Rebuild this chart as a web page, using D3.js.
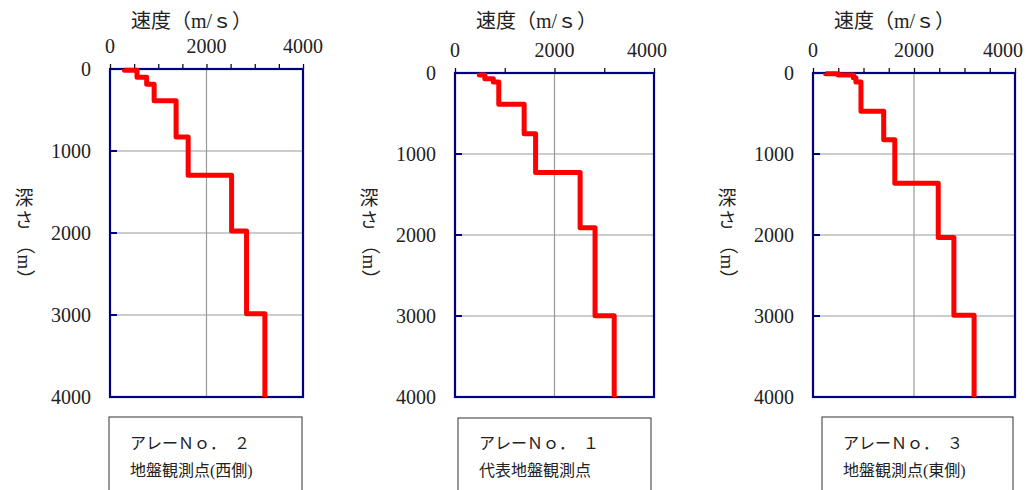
<!DOCTYPE html>
<html>
<head>
<meta charset="utf-8">
<script src="https://cdn.jsdelivr.net/npm/d3@7"></script>
<style>
    body { margin: 0; background: #ffffff; }
    svg { display: block; }
    .num { font-family: "Liberation Serif", "Noto Sans CJK JP", serif; fill: #222; }
    .jp { font-family: "Liberation Serif", "Noto Sans CJK JP", sans-serif; fill: #222; }
</style>
</head>
<body>
<svg id="chart" width="1031" height="490"></svg>
<script>
// axis values
const velocityTicks = [0, 2000, 4000];
const depthTicks = [0, 1000, 2000, 3000, 4000];
const depthGrid = [1000, 2000, 3000];
const velocityGrid = [2000];

// velocity of each layer (m/s) and depth of the layer bottom (m)
// array No.2 (west side)
const no2Velocity = [300, 560, 760, 915, 1370, 1620, 2520, 2830, 3210];
const no2Bottom = [15, 100, 185, 388, 830, 1295, 1975, 2985, 4000];

// array No.1 (main site)
const no1Velocity = [490, 600, 770, 880, 1390, 1620, 2515, 2815, 3200];
const no1Bottom = [25, 70, 110, 385, 750, 1228, 1912, 2996, 4000];

// array No.3 (east side)
const no3Velocity = [250, 500, 800, 850, 950, 1400, 1620, 2480, 2790, 3190];
const no3Bottom = [10, 25, 60, 110, 472, 825, 1360, 2030, 2990, 4000];

// box labels
const labelLine1 = ["アレーＮｏ．　２", "アレーＮｏ．　１", "アレーＮｏ．　３"];
const labelLine2 = ["地盤観測点(西側)", "代表地盤観測点", "地盤観測点(東側)"];

// top tick spacing differs per panel
const minorStep = [500, 1000, 500];

/** one velocity profile panel */
class ProfilePanel {
    constructor(svg, layout, velocity, bottom, step, line1, line2) {
        this.svg = svg;
        this.layout = layout;
        this.velocity = velocity;
        this.bottom = bottom;
        this.step = step;
        this.line1 = line1;
        this.line2 = line2;

        // scales, velocity across and depth down
        this.x = d3.scaleLinear().domain([0, 4000]).range([layout.left, layout.right]);
        this.y = d3.scaleLinear().domain([0, 4000]).range([layout.top, layout.bottom]);

        this.drawGrid();
        this.drawAxes();
        this.drawProfile();
        this.drawBox();
    }

    drawGrid() {
        const g = this.svg.append("g");
        g.selectAll("line.h")
            .data(depthGrid)
            .join("line")
            .attr("x1", this.x(0))
            .attr("x2", this.x(4000))
            .attr("y1", d => this.y(d))
            .attr("y2", d => this.y(d))
            .attr("stroke", "#999")
            .attr("stroke-width", 1.2);
        g.selectAll("line.v")
            .data(velocityGrid)
            .join("line")
            .attr("x1", d => this.x(d))
            .attr("x2", d => this.x(d))
            .attr("y1", this.y(0))
            .attr("y2", this.y(4000))
            .attr("stroke", "#999")
            .attr("stroke-width", 1.2);
    }

    drawAxes() {
        const L = this.layout;

        // top axis: small black ticks pointing up, labels at 0/2000/4000
        const topTicks = d3.range(0, 4001, this.step);
        this.svg.append("g")
            .attr("transform", `translate(0, ${L.top})`)
            .call(d3.axisTop(this.x).tickValues(topTicks).tickSize(5).tickFormat(""))
            .call(g => g.select(".domain").remove())
            .call(g => g.selectAll("line").attr("stroke", "#111").attr("stroke-width", 1.3));

        // last label gets pulled in on the right hand panel so it stays on the page
        this.svg.append("g").selectAll("text")
            .data(velocityTicks)
            .join("text")
            .attr("class", "num")
            .attr("x", d => Math.min(this.x(d), L.labelMaxX))
            .attr("y", L.top - 23)
            .attr("text-anchor", "middle")
            .attr("dominant-baseline", "central")
            .attr("font-size", "20px")
            .text(d => d);

        // left axis labels
        this.svg.append("g").selectAll("text")
            .data(depthTicks)
            .join("text")
            .attr("class", "num")
            .attr("x", L.left - 19)
            .attr("y", d => this.y(d))
            .attr("text-anchor", "end")
            .attr("dominant-baseline", "central")
            .attr("font-size", "20px")
            .text(d => d);

        // inward navy ticks on the left side
        this.svg.append("g").selectAll("line")
            .data(depthGrid)
            .join("line")
            .attr("x1", L.left)
            .attr("x2", L.left + 7)
            .attr("y1", d => this.y(d))
            .attr("y2", d => this.y(d))
            .attr("stroke", "#000080")
            .attr("stroke-width", 2);

        // plot frame
        this.svg.append("rect")
            .attr("x", this.x(0))
            .attr("y", this.y(0))
            .attr("width", this.x(4000) - this.x(0))
            .attr("height", this.y(4000) - this.y(0))
            .attr("fill", "none")
            .attr("stroke", "#000080")
            .attr("stroke-width", 2.2);

        // axis titles
        this.svg.append("text")
            .attr("class", "jp")
            .attr("x", L.left + 21)
            .attr("y", 21)
            .attr("dominant-baseline", "central")
            .attr("font-size", "20px")
            .text("速度（m/ｓ）");

        // vertical depth title, char by char
        const cx = L.left - 86;
        const yt = this.svg.append("g");
        yt.append("text").attr("class", "jp").attr("x", cx).attr("y", 198)
            .attr("text-anchor", "middle").attr("dominant-baseline", "central")
            .attr("font-size", "19px").text("深");
        yt.append("text").attr("class", "jp").attr("x", cx).attr("y", 220)
            .attr("text-anchor", "middle").attr("dominant-baseline", "central")
            .attr("font-size", "19px").text("さ");
        yt.append("text").attr("class", "jp")
            .attr("transform", `translate(${cx}, 262) rotate(90)`)
            .attr("text-anchor", "middle").attr("dominant-baseline", "central")
            .attr("font-size", "19px").text("（m）");
    }

    drawProfile() {
        // build the step points from layers
        const pts = [];
        let top = 0;
        this.velocity.forEach((v, i) => {
            pts.push([v, top]);
            pts.push([v, this.bottom[i]]);
            top = this.bottom[i];
        });

        const line = d3.line()
            .x(d => this.x(d[0]))
            .y(d => this.y(d[1]));

        this.svg.append("path")
            .attr("d", line(pts))
            .attr("fill", "none")
            .attr("stroke", "#ff0000")
            .attr("stroke-width", 5)
            .attr("stroke-linejoin", "round");
    }

    drawBox() {
        const B = this.layout.box;
        this.svg.append("rect")
            .attr("x", B.left)
            .attr("y", B.top)
            .attr("width", B.right - B.left)
            .attr("height", 100)
            .attr("fill", "none")
            .attr("stroke", "#333")
            .attr("stroke-width", 1);

        this.svg.append("text")
            .attr("class", "jp")
            .attr("x", B.left + 21)
            .attr("y", 443)
            .attr("dominant-baseline", "central")
            .attr("font-size", "16px")
            .text(this.line1);

        this.svg.append("text")
            .attr("class", "jp")
            .attr("x", B.left + 21)
            .attr("y", 470)
            .attr("dominant-baseline", "central")
            .attr("font-size", "16px")
            .text(this.line2);
    }
}

const svg = d3.select("#chart");

// panel placement on the page
const layouts = [
    { left: 110, right: 303, top: 69, bottom: 397, labelMaxX: 303, box: { left: 109, right: 302, top: 417 } },
    { left: 455, right: 654, top: 73, bottom: 397, labelMaxX: 647, box: { left: 458, right: 651, top: 418 } },
    { left: 813, right: 1015, top: 73, bottom: 397, labelMaxX: 1003, box: { left: 822, right: 1013, top: 417 } }
];

new ProfilePanel(svg, layouts[0], no2Velocity, no2Bottom, minorStep[0], labelLine1[0], labelLine2[0]);
new ProfilePanel(svg, layouts[1], no1Velocity, no1Bottom, minorStep[1], labelLine1[1], labelLine2[1]);
new ProfilePanel(svg, layouts[2], no3Velocity, no3Bottom, minorStep[2], labelLine1[2], labelLine2[2]);
</script>
</body>
</html>
